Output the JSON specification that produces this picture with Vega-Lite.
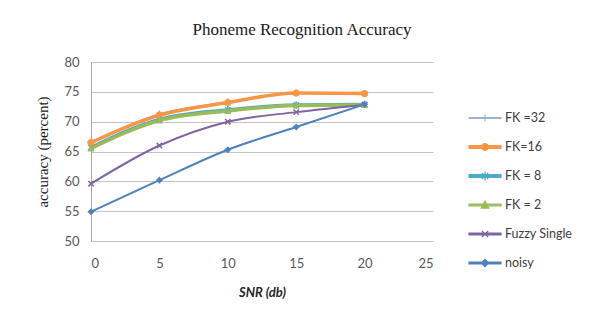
{
  "$schema": "https://vega.github.io/schema/vega-lite/v6.json",
  "width": 342,
  "height": 179,
  "autosize": {"type": "none"},
  "padding": {"left": 91, "top": 62, "right": 157, "bottom": 88},
  "background": "white",
  "title": {
    "text": "Phoneme Recognition Accuracy",
    "font": "Liberation Serif",
    "fontSize": 17,
    "fontWeight": "normal",
    "color": "#1a1a1a",
    "anchor": "middle",
    "dx": 40,
    "offset": 17
  },
  "data": {
    "values": [
      {"snr": 0, "acc": 66.6, "series": "FK =32"},
      {"snr": 5, "acc": 71.3, "series": "FK =32"},
      {"snr": 10, "acc": 73.3, "series": "FK =32"},
      {"snr": 15, "acc": 74.8, "series": "FK =32"},
      {"snr": 20, "acc": 74.7, "series": "FK =32"},
      {"snr": 0, "acc": 66.5, "series": "FK=16"},
      {"snr": 5, "acc": 71.1, "series": "FK=16"},
      {"snr": 10, "acc": 73.2, "series": "FK=16"},
      {"snr": 15, "acc": 74.8, "series": "FK=16"},
      {"snr": 20, "acc": 74.7, "series": "FK=16"},
      {"snr": 0, "acc": 65.7, "series": "FK = 8"},
      {"snr": 5, "acc": 70.4, "series": "FK = 8"},
      {"snr": 10, "acc": 72.0, "series": "FK = 8"},
      {"snr": 15, "acc": 72.8, "series": "FK = 8"},
      {"snr": 20, "acc": 72.9, "series": "FK = 8"},
      {"snr": 0, "acc": 65.5, "series": "FK = 2"},
      {"snr": 5, "acc": 70.2, "series": "FK = 2"},
      {"snr": 10, "acc": 71.8, "series": "FK = 2"},
      {"snr": 15, "acc": 72.7, "series": "FK = 2"},
      {"snr": 20, "acc": 72.8, "series": "FK = 2"},
      {"snr": 0, "acc": 59.6, "series": "Fuzzy Single"},
      {"snr": 5, "acc": 66.0, "series": "Fuzzy Single"},
      {"snr": 10, "acc": 70.0, "series": "Fuzzy Single"},
      {"snr": 15, "acc": 71.6, "series": "Fuzzy Single"},
      {"snr": 20, "acc": 72.8, "series": "Fuzzy Single"},
      {"snr": 0, "acc": 54.9, "series": "noisy"},
      {"snr": 5, "acc": 60.2, "series": "noisy"},
      {"snr": 10, "acc": 65.3, "series": "noisy"},
      {"snr": 15, "acc": 69.1, "series": "noisy"},
      {"snr": 20, "acc": 72.9, "series": "noisy"}
    ]
  },
  "encoding": {
    "x": {
      "field": "snr",
      "type": "quantitative",
      "scale": {"domain": [0, 25], "nice": false, "zero": false},
      "axis": {
        "values": [0, 5, 10, 15, 20, 25],
        "title": "SNR (db)",
        "titleFont": "Lato",
        "titleFontStyle": "italic",
        "titleFontWeight": "bold",
        "titleFontSize": 13,
        "titleColor": "#262626",
        "titlePadding": 16,
        "labelFont": "Lato",
        "labelFontSize": 13,
        "labelColor": "#595959",
        "labelPadding": 16,
        "ticks": false,
        "domain": false,
        "grid": false
      }
    },
    "y": {
      "field": "acc",
      "type": "quantitative",
      "scale": {"domain": [50, 80], "nice": false, "zero": false},
      "axis": {
        "values": [50, 55, 60, 65, 70, 75, 80],
        "title": "accuracy  (percent)",
        "titleFont": "Liberation Serif",
        "titleFontSize": 15,
        "titleFontWeight": "normal",
        "titleColor": "#1a1a1a",
        "titlePadding": 13,
        "labelFont": "Lato",
        "labelFontSize": 13,
        "labelColor": "#595959",
        "labelPadding": 12,
        "ticks": false,
        "domain": true,
        "domainColor": "#a6a6a6",
        "grid": true,
        "gridColor": "#c4c4c4",
        "gridWidth": 1.2
      }
    },
    "color": {
      "field": "series",
      "type": "nominal",
      "scale": {
        "domain": ["FK =32", "FK=16", "FK = 8", "FK = 2", "Fuzzy Single", "noisy"],
        "range": ["#9db3d6", "#f79646", "#4bacc6", "#9bbb59", "#8064a2", "#4f81bd"]
      },
      "legend": {
        "title": null,
        "orient": "none",
        "legendX": 385,
        "legendY": 47,
        "padding": 0,
        "symbolSize": 256,
        "symbolStrokeWidth": 1.2,
        "rowPadding": 13,
        "labelOffset": 11,
        "labelFont": "Lato",
        "labelFontSize": 12.5,
        "labelColor": "#404040",
        "encode": {
          "symbols": {
            "update": {
              "shape": {"signal": "datum.value === 'FK =32' ? 'M-2,-0.06L2,-0.06L2,0.06L-2,0.06ZM0,-0.45L0,0.45' : datum.value === 'FK=16' ? 'M-2,-0.19L2,-0.19L2,0.19L-2,0.19ZM0.42,0A0.42,0.42,0,1,1,-0.42,0A0.42,0.42,0,1,1,0.42,0Z' : datum.value === 'FK = 8' ? 'M-2,-0.19L2,-0.19L2,0.19L-2,0.19ZM-0.4,-0.4L0.4,0.4M-0.4,0.4L0.4,-0.4M0,-0.55L0,0.55' : datum.value === 'FK = 2' ? 'M-2,-0.1L2,-0.1L2,0.1L-2,0.1ZM0,-0.5L0.48,0.38L-0.48,0.38Z' : datum.value === 'Fuzzy Single' ? 'M-2,-0.12L2,-0.12L2,0.12L-2,0.12ZM-0.4,-0.4L0.4,0.4M-0.4,0.4L0.4,-0.4' : 'M-2,-0.12L2,-0.12L2,0.12L-2,0.12ZM0,-0.45L0.45,0L0,0.45L-0.45,0Z'"},
              "fill": {"scale": "color", "field": "value"},
              "stroke": {"scale": "color", "field": "value"},
              "fillOpacity": {"value": 1},
              "strokeWidth": {"value": 1.2}
            }
          }
        }
      }
    }
  },
  "layer": [
    {
      "transform": [{"filter": "datum.series === 'FK =32'"}],
      "mark": {"type": "line", "interpolate": "monotone", "strokeWidth": 1.5}
    },
    {
      "transform": [{"filter": "datum.series === 'FK = 8'"}],
      "mark": {"type": "line", "interpolate": "monotone", "strokeWidth": 3.2}
    },
    {
      "transform": [{"filter": "datum.series === 'FK=16' || datum.series === 'FK = 2'"}],
      "mark": {"type": "line", "interpolate": "monotone", "strokeWidth": 3.5}
    },
    {
      "transform": [{"filter": "datum.series === 'Fuzzy Single' || datum.series === 'noisy'"}],
      "mark": {"type": "line", "interpolate": "monotone", "strokeWidth": 2}
    },
    {
      "transform": [{"filter": "datum.series === 'FK =32'"}],
      "mark": {"type": "point", "filled": false, "opacity": 1, "size": 45, "strokeWidth": 1.5, "shape": "M-1,0L1,0M0,-1L0,1"}
    },
    {
      "transform": [{"filter": "datum.series === 'FK = 8'"}],
      "mark": {"type": "point", "filled": false, "opacity": 1, "size": 45, "strokeWidth": 1.5, "shape": "M-0.8,-0.8L0.8,0.8M-0.8,0.8L0.8,-0.8M0,-1.1L0,1.1"}
    },
    {
      "transform": [{"filter": "datum.series === 'Fuzzy Single'"}],
      "mark": {"type": "point", "filled": false, "opacity": 1, "size": 45, "strokeWidth": 1.5, "shape": "M-0.8,-0.8L0.8,0.8M-0.8,0.8L0.8,-0.8"}
    },
    {
      "transform": [{"filter": "datum.series === 'FK=16'"}],
      "mark": {"type": "point", "filled": true, "opacity": 1, "size": 50, "shape": "circle"}
    },
    {
      "transform": [{"filter": "datum.series === 'FK = 2'"}],
      "mark": {"type": "point", "filled": true, "opacity": 1, "size": 50, "shape": "triangle-up"}
    },
    {
      "transform": [{"filter": "datum.series === 'noisy'"}],
      "mark": {"type": "point", "filled": true, "opacity": 1, "size": 50, "shape": "diamond"}
    }
  ],
  "config": {
    "view": {"stroke": null}
  }
}
